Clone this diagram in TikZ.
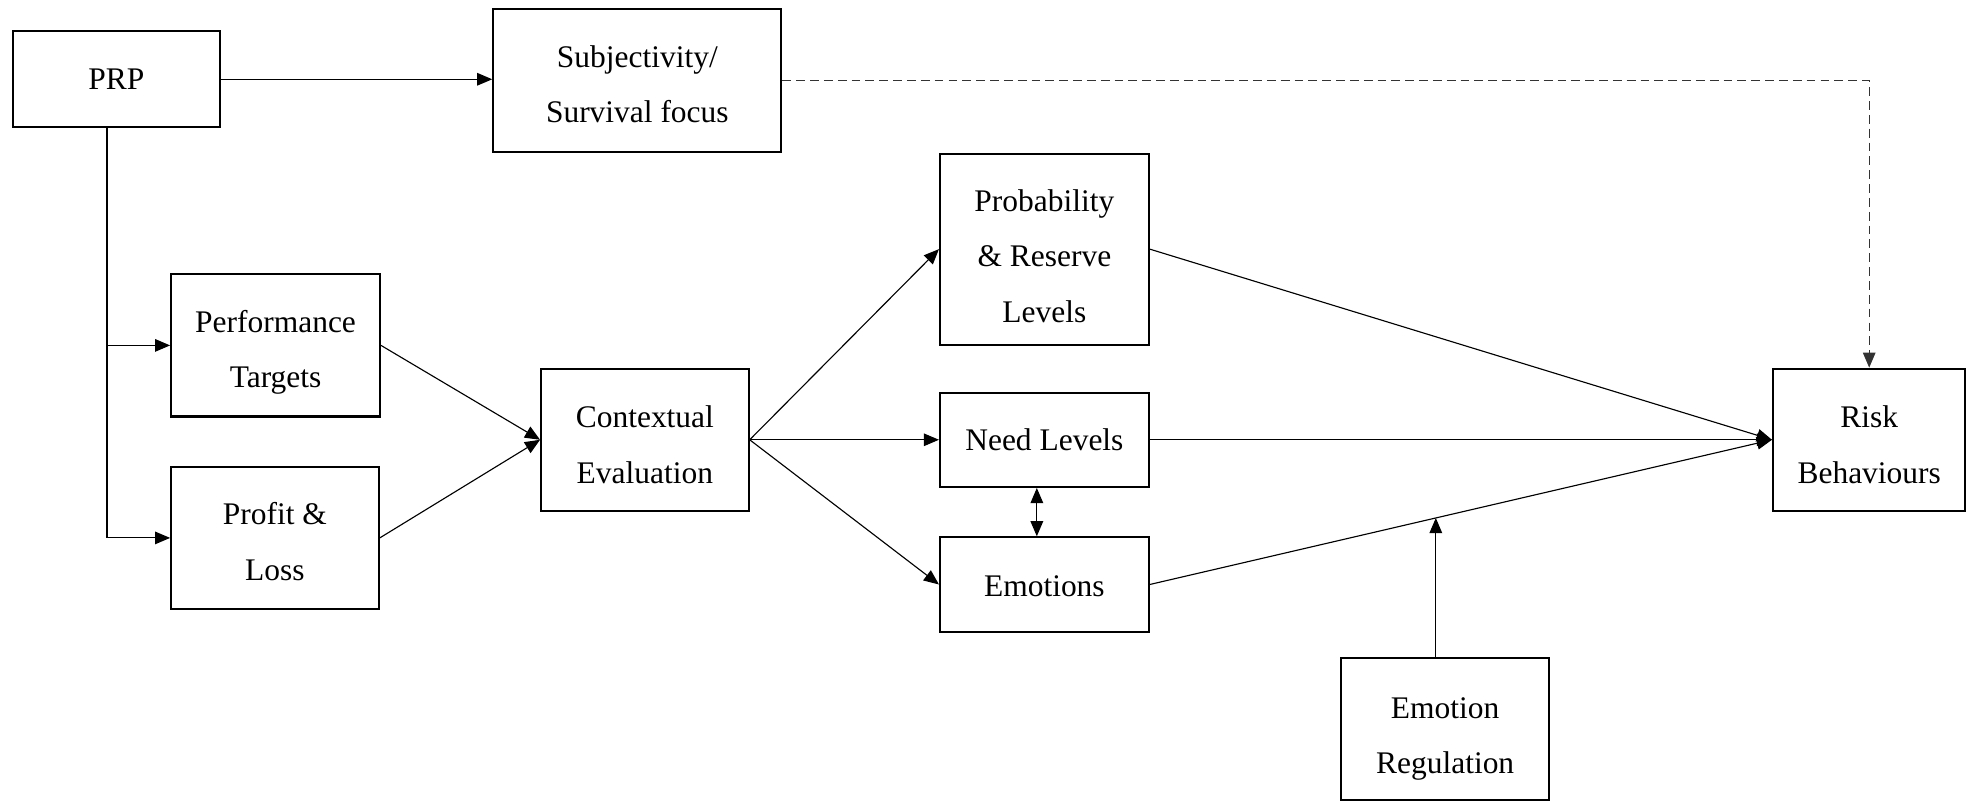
\documentclass[tikz,border=0pt]{standalone}
\usepackage{fontspec}
\setmainfont{Liberation Serif}
\usetikzlibrary{arrows.meta,calc}
% each text line can be lowered inside its box by \bxdrop, keeping its size
\def\bxdrop{0pt}
\newcommand\bxl[1]{\raisebox{-\bxdrop}[\height][\depth]{#1}}
\begin{document}
\begin{tikzpicture}[x=1pt,y=-1pt,
  drop/.code={\def\bxdrop{#1}},
  box/.style={draw, line width=1.6pt, align=center, inner sep=0pt,
    font=\fontsize{25}{44}\selectfont},
  tip/.tip={Triangle[length=12pt,width=10pt]},
  link/.style={line width=0.9pt, -tip},
  both/.style={line width=0.9pt, tip-tip},
  hint/.style={line width=0.9pt, draw=black!80, dash pattern=on 7pt off 4pt, -tip},
]
\useasboundingbox (0,0) rectangle (1568,637);

% boxes
\node[box, minimum width=165pt, minimum height=76pt]  (prp)  at (92.5,63)    {PRP};
\node[box, drop=3pt, minimum width=229pt, minimum height=114pt] (subj) at (506.5,64)
  {\bxl{Subjectivity/}\\\bxl{Survival focus}};
\node[box, drop=5.5pt, minimum width=166pt, minimum height=113pt] (perf) at (219,274.5)
  {\bxl{Performance}\\\bxl{Targets}};
\node[box, drop=3pt, minimum width=165pt, minimum height=113pt] (pl) at (218.5,427.5)
  {\bxl{Profit \&}\\\bxl{Loss}};
\node[box, drop=4pt, minimum width=165pt, minimum height=113pt] (ctx) at (512.5,349.5)
  {\bxl{Contextual}\\\bxl{Evaluation}};
\node[box, drop=5.5pt, minimum width=166pt, minimum height=152pt] (prob) at (830,198)
  {\bxl{Probability}\\\bxl{\& Reserve}\\\bxl{Levels}};
\node[box, minimum width=166pt, minimum height=75pt]  (need) at (830,349.5)  {Need Levels};
\node[box, drop=1pt, minimum width=166pt, minimum height=75pt]  (emo)  at (830,464.5)
  {\bxl{Emotions}};
\node[box, drop=4pt, minimum width=153pt, minimum height=113pt] (risk) at (1485.5,349.5)
  {\bxl{Risk}\\\bxl{Behaviours}};
\node[box, drop=8pt, minimum width=165pt, minimum height=113pt] (reg) at (1148.5,579.5)
  {\bxl{Emotion}\\\bxl{Regulation}};

% connectors
\draw[link] (prp.east) -- (subj.west |- prp.east);
\draw[link] ([xshift=-7.5pt]prp.south) |- (perf.west);
\draw[link] ([xshift=-7.5pt]prp.south) |- (pl.west);
\draw[link] (perf.east) -- (ctx.west);
\draw[link] (pl.east) -- (ctx.west);
\draw[link] (ctx.east) -- (prob.west);
\draw[link] (ctx.east) -- (need.west);
\draw[link] (ctx.east) -- (emo.west);
\draw[both] ([xshift=-6pt]need.south) -- ([xshift=-6pt]emo.north);
\draw[link] (prob.east) -- (risk.west);
\draw[link] (need.east) -- (risk.west);
\draw[link] (emo.east) -- (risk.west);
\coordinate (mod) at ($(emo.east)!0.4597!(risk.west)$);
\draw[link] (reg.north -| mod) -- (mod);
\draw[hint] (subj.east) -| (risk.north);
\end{tikzpicture}
\end{document}
